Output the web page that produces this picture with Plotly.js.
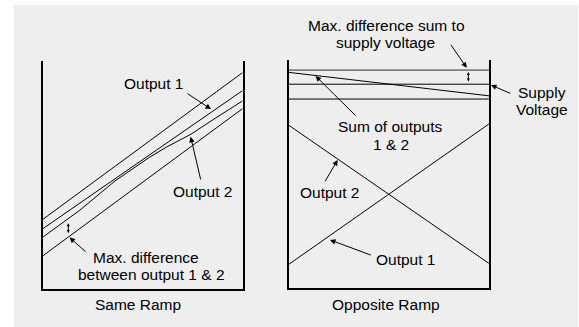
<!DOCTYPE html>
<html>
<head>
<meta charset="utf-8">
<script src="https://cdn.plot.ly/plotly-3.0.1.min.js"></script>
<style>
html,body{margin:0;padding:0;background:#ffffff;}
#chart{width:579px;height:327px;}
</style>
</head>
<body>
<div id="chart"></div>
<script>
// ---- Data (percent of time span / percent of full scale) ----
// Same Ramp panel
const sameX = [0, 100];
const sameUpperBound = [30.6, 94.9];
const sameOutput1 = [26.5, 87.0];
const sameOutput2X = [0, 18.5, 36.1, 53.6, 62.0, 74.2, 86.2, 100];
const sameOutput2 = [22.8, 34.6, 47.4, 57.9, 62.3, 67.9, 74.8, 82.5];
const sameLowerBound = [14.6, 79.1];
// Opposite Ramp panel
const oppX = [0, 100];
const oppOutput1 = [10.4, 72.0];
const oppOutput2 = [71.5, 10.9];
const oppSum = [94.6, 84.3];
const oppSupplyHigh = [95.6, 95.6];
const oppSupply = [89.4, 89.4];
const oppSupplyLow = [82.9, 82.9];

// Labels
const panelTitles = ["Same Ramp", "Opposite Ramp"];
const sameLabels = ["Output 1", "Output 2", "Max. difference", "between output 1 & 2"];
const oppLabels = ["Max. difference sum to", "supply voltage", "Supply", "Voltage",
                   "Sum of outputs", "1 & 2", "Output 2", "Output 1"];

const W = 579, H = 327;
const FONT = {family: '"Liberation Sans", Arial, Helvetica, sans-serif', size: 15.5, color: '#000'};
const P = (px, py) => [px / W, 1 - py / H];   // page pixel -> paper fraction (layout only)

function line(x, y, xa, ya, color, width) {
  return {x: x, y: y, xaxis: xa, yaxis: ya, type: 'scatter', mode: 'lines',
          line: {color: color || '#000', width: width || 1},
          hoverinfo: 'skip', showlegend: false};
}

const traces = [
  line(sameX, sameUpperBound, 'x', 'y'),
  line(sameX, sameOutput1, 'x', 'y'),
  line(sameOutput2X, sameOutput2, 'x', 'y'),
  line(sameX, sameLowerBound, 'x', 'y'),
  line(oppX, oppSupplyHigh, 'x2', 'y2', '#7f7f7f', 1.8),
  line(oppX, oppSupply, 'x2', 'y2'),
  line(oppX, oppSupplyLow, 'x2', 'y2'),
  line(oppX, oppSum, 'x2', 'y2'),
  line(oppX, oppOutput1, 'x2', 'y2'),
  line(oppX, oppOutput2, 'x2', 'y2')
];

function txt(text, x, y, xr, yr) {
  return {text: text, x: x, y: y, xref: xr, yref: yr, showarrow: false,
          xanchor: 'center', yanchor: 'middle', font: FONT};
}
function ptxt(text, px, py) {
  const p = P(px, py);
  return txt(text, p[0], p[1], 'paper', 'paper');
}
function arr(x, y, ax, ay, xr, yr) {
  return {text: '', x: x, y: y, ax: ax, ay: ay, xref: xr, yref: yr, axref: xr, ayref: yr,
          showarrow: true, arrowhead: 2, arrowsize: 1.1, arrowwidth: 1, arrowcolor: '#000', standoff: 0};
}
function dbl(x, y0, y1, xr, yr) {
  const a = arr(x, y1, x, y0, xr, yr);
  a.arrowside = 'end+start';
  a.arrowsize = 0.6;
  a.startarrowhead = 2;
  a.startarrowsize = 0.6;
  return a;
}

const supplyTip = P(491, 85);

const annotations = [
  // Same Ramp
  txt(sameLabels[0], 55.5, 90.2, 'x', 'y'),
  arr(84.2, 78.9, 71.7, 86.1, 'x', 'y'),
  txt(sameLabels[1], 80.1, 42.6, 'x', 'y'),
  arr(74.0, 66.8, 79.2, 47.4, 'x', 'y'),
  txt(sameLabels[2], 51.7, 13.95, 'x', 'y'),
  txt(sameLabels[3], 54.3, 6.2, 'x', 'y'),
  arr(13.3, 22.6, 22.1, 15.8, 'x', 'y'),
  dbl(12.7, 23.9, 28.8, 'x', 'y'),
  ptxt(panelTitles[0], 137.8, 304.5),
  // Opposite Ramp
  ptxt(oppLabels[0], 386, 25),
  ptxt(oppLabels[1], 385.7, 42.5),
  arr(88.9, 96.6, 80.5, 107.3, 'x2', 'y2'),
  dbl(89.7, 89.9, 94.7, 'x2', 'y2'),
  ptxt(oppLabels[2], 541.7, 92.4),
  ptxt(oppLabels[3], 541.7, 109.9),
  {text: '', x: supplyTip[0], y: supplyTip[1], xref: 'paper', yref: 'paper',
   ax: 20.7, ay: 9, showarrow: true, arrowhead: 2, arrowsize: 1.1, arrowwidth: 1,
   arrowcolor: '#000', standoff: 0},
  txt(oppLabels[4], 51.1, 70.75, 'x2', 'y2'),
  txt(oppLabels[5], 51.1, 63.05, 'x2', 'y2'),
  arr(13.5, 93.0, 34.2, 75.0, 'x2', 'y2'),
  txt(oppLabels[6], 20.3, 41.9, 'x2', 'y2'),
  arr(24.5, 56.2, 17.9, 46.3, 'x2', 'y2'),
  txt(oppLabels[7], 58.5, 12.8, 'x2', 'y2'),
  arr(20.7, 21.2, 41.8, 14.3, 'x2', 'y2'),
  ptxt(panelTitles[1], 385.5, 304.5)
];

function xax(domain) {
  return {domain: domain, range: [0, 100], showgrid: false, zeroline: false, showticklabels: false,
          ticks: '', showline: true, linecolor: '#000', linewidth: 2, mirror: false, fixedrange: true};
}
function yax(domain) {
  return {domain: domain, range: [0, 100], showgrid: false, zeroline: false, showticklabels: false,
          ticks: '', showline: true, linecolor: '#000', linewidth: 2, mirror: true, fixedrange: true};
}

const layout = {
  width: W, height: H,
  margin: {l: 0, r: 0, t: 0, b: 0, pad: 0},
  paper_bgcolor: '#ffffff',
  plot_bgcolor: 'rgba(0,0,0,0)',
  showlegend: false,
  font: FONT,
  xaxis: Object.assign(xax([43 / W, 242.5 / W]), {anchor: 'y'}),
  yaxis: Object.assign(yax([1 - 289 / H, 1 - 61 / H]), {anchor: 'x'}),
  xaxis2: Object.assign(xax([288.5 / W, 489 / W]), {anchor: 'y2'}),
  yaxis2: Object.assign(yax([1 - 288.3 / H, 1 - 60 / H]), {anchor: 'x2'}),
  shapes: [{type: 'rect', xref: 'paper', yref: 'paper', x0: 14 / W, x1: 578 / W, y0: 0, y1: 1 - 5 / H,
            fillcolor: '#eeeeee', line: {width: 0}, layer: 'below'}],
  annotations: annotations
};

Plotly.newPlot('chart', traces, layout, {displayModeBar: false, staticPlot: true});
</script>
</body>
</html>
